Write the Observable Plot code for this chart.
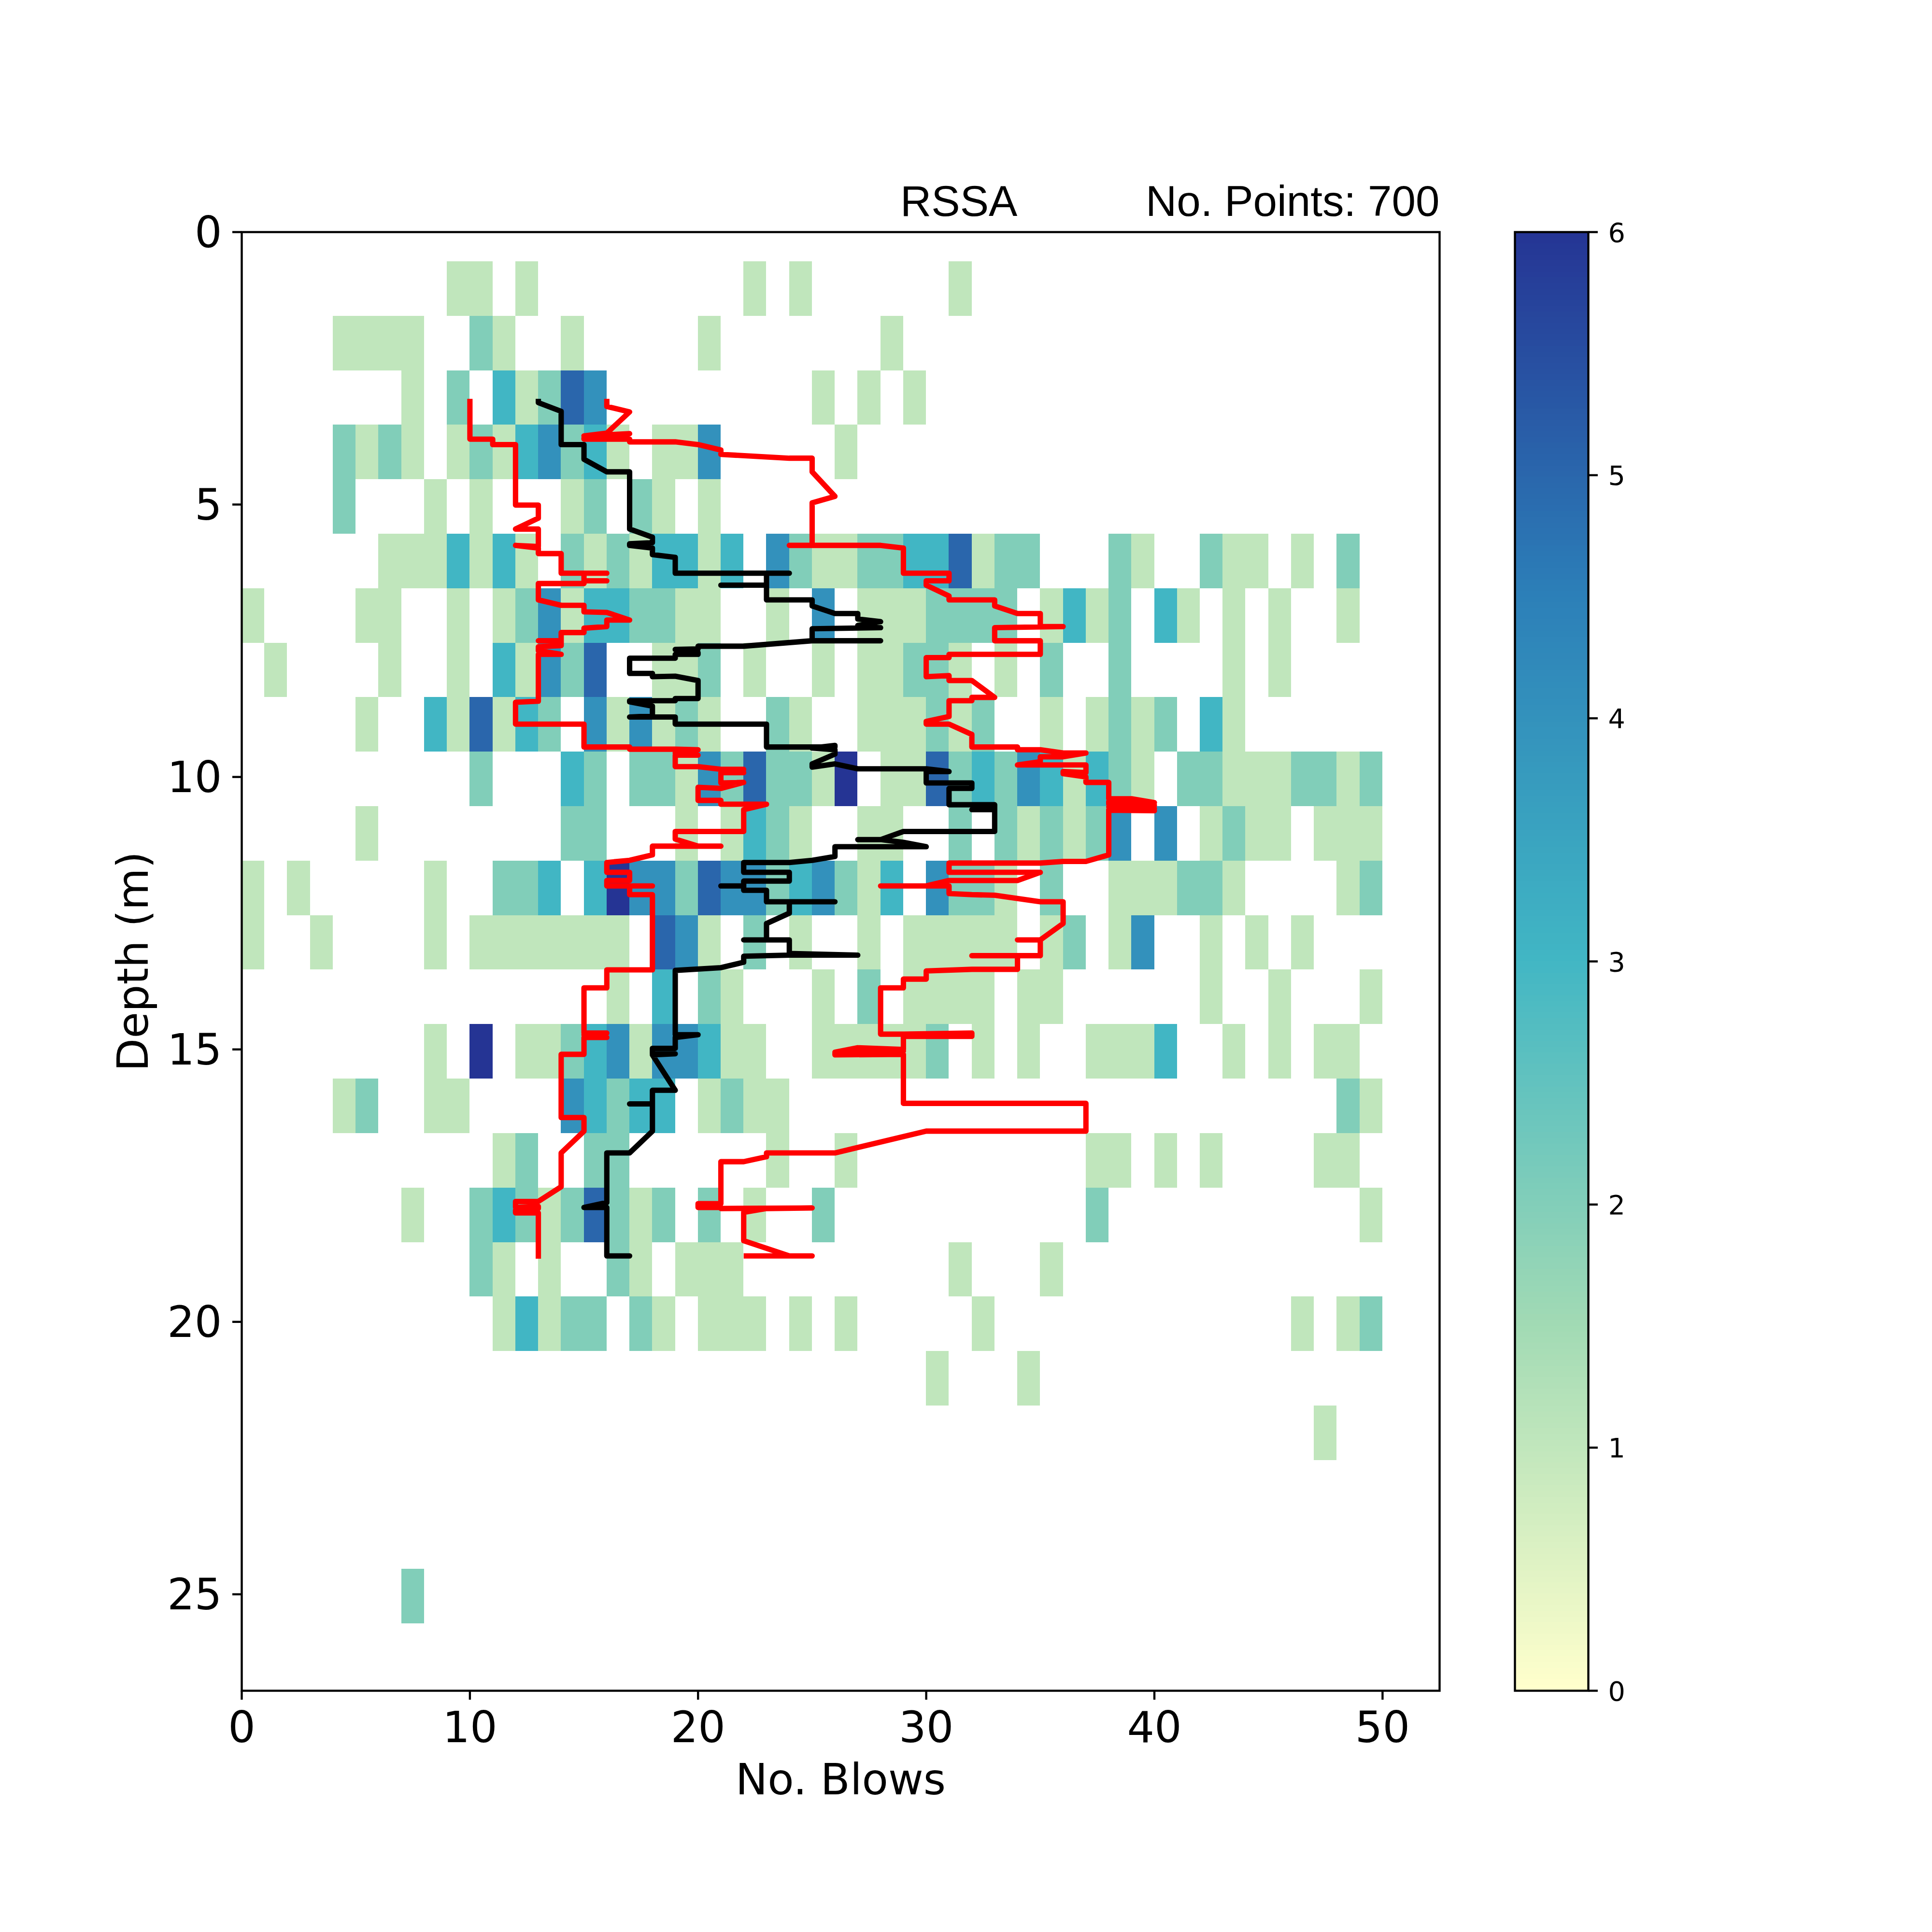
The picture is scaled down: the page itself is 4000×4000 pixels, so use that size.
<!DOCTYPE html>
<html>
<head>
<meta charset="utf-8">
<script src="https://cdn.jsdelivr.net/npm/d3@7"></script>
<script src="https://cdn.jsdelivr.net/npm/@observablehq/plot@0.6"></script>
<style>
html,body{margin:0;padding:0;background:#fff;}
#wrap{position:relative;width:4000px;height:4000px;}
#wrap svg{position:absolute;left:0;top:0;background:transparent;}
</style>
</head>
<body>
<div id="wrap"></div>
<script>
// Histogram rows: top depth of each row and sparse [blows bin, count] pairs
const rowTops = [0.54,1.54,2.54,3.54,4.54,5.54,6.54,7.54,8.54,9.54,10.54,11.54,12.54,13.54,14.54,15.54,16.54,17.54,18.54,19.54,20.54,21.54,24.54];
const rowCounts = [
 [[9,1],[10,1],[12,1],[22,1],[24,1],[31,1]],
 [[4,1],[5,1],[6,1],[7,1],[10,2],[11,1],[14,1],[20,1],[28,1]],
 [[7,1],[9,2],[11,3],[12,1],[13,2],[14,5],[15,4],[25,1],[27,1],[29,1]],
 [[4,2],[5,1],[6,2],[7,1],[9,1],[10,2],[11,1],[12,3],[13,4],[14,2],[15,3],[16,1],[18,1],[19,1],[20,4],[26,1]],
 [[4,2],[8,1],[10,1],[14,1],[15,2],[17,2],[18,1],[20,1]],
 [[6,1],[7,1],[8,1],[9,3],[10,1],[11,3],[12,1],[14,2],[15,1],[16,2],[17,1],[18,3],[19,3],[20,1],[21,3],[23,4],[24,2],[25,1],[26,1],[27,2],[28,2],[29,3],[30,3],[31,5],[32,1],[33,2],[34,2],[38,2],[39,1],[42,2],[43,1],[44,1],[46,1],[48,2]],
 [[0,1],[5,1],[6,1],[9,1],[11,1],[12,2],[13,4],[14,1],[15,3],[16,3],[17,2],[18,2],[19,1],[20,1],[23,1],[25,4],[27,1],[28,1],[29,1],[30,2],[31,2],[32,2],[33,2],[35,1],[36,3],[37,1],[38,2],[40,3],[41,1],[43,1],[45,1],[48,1]],
 [[1,1],[6,1],[9,1],[11,3],[12,1],[13,4],[14,2],[15,5],[18,1],[19,1],[20,2],[22,1],[25,1],[27,1],[28,1],[29,2],[30,2],[31,1],[33,1],[35,2],[38,2],[43,1],[45,1]],
 [[5,1],[8,3],[9,1],[10,5],[11,1],[12,3],[13,2],[15,4],[16,1],[17,4],[18,1],[19,2],[20,1],[23,2],[24,1],[27,1],[28,1],[29,1],[30,2],[31,1],[32,2],[35,1],[37,1],[38,2],[39,1],[40,2],[42,3],[43,1]],
 [[10,2],[14,3],[15,2],[17,2],[18,2],[19,1],[20,4],[21,2],[22,5],[23,2],[24,2],[25,1],[26,6],[28,1],[29,1],[30,5],[31,2],[32,3],[33,2],[34,4],[35,3],[36,1],[37,3],[38,2],[39,1],[41,2],[42,2],[43,1],[44,1],[45,1],[46,2],[47,2],[48,1],[49,2]],
 [[5,1],[14,2],[15,2],[19,1],[21,1],[22,3],[23,2],[24,1],[27,1],[28,1],[31,2],[33,2],[34,1],[35,2],[36,1],[37,2],[38,4],[40,4],[42,1],[43,2],[44,1],[45,1],[47,1],[48,1],[49,1]],
 [[0,1],[2,1],[8,1],[11,2],[12,2],[13,3],[15,3],[16,6],[17,4],[18,4],[19,2],[20,5],[21,4],[22,4],[23,2],[24,3],[25,4],[26,2],[27,1],[28,3],[30,4],[31,2],[32,2],[33,1],[35,2],[38,1],[39,1],[40,1],[41,2],[42,2],[43,1],[48,1],[49,2]],
 [[0,1],[3,1],[8,1],[10,1],[11,1],[12,1],[13,1],[14,1],[15,1],[16,1],[18,5],[19,4],[20,1],[22,2],[24,1],[27,1],[29,1],[30,1],[31,1],[32,1],[33,1],[35,1],[36,2],[38,1],[39,4],[42,1],[44,1],[46,1]],
 [[16,1],[18,3],[20,2],[21,1],[25,1],[27,2],[29,1],[30,1],[31,1],[32,1],[34,1],[35,1],[42,1],[45,1],[49,1]],
 [[8,1],[10,6],[12,1],[13,1],[14,2],[15,3],[16,4],[17,1],[18,4],[19,4],[20,3],[21,1],[22,1],[25,1],[26,1],[27,1],[28,1],[29,1],[30,2],[32,1],[34,1],[37,1],[38,1],[39,1],[40,3],[43,1],[45,1],[47,1],[48,1]],
 [[4,1],[5,2],[8,1],[9,1],[14,4],[15,3],[16,2],[17,3],[18,3],[20,1],[21,2],[22,1],[23,1],[48,2],[49,1]],
 [[11,1],[12,2],[15,2],[16,2],[23,1],[26,1],[37,1],[38,1],[40,1],[42,1],[47,1],[48,1]],
 [[7,1],[10,2],[11,3],[12,2],[13,1],[14,2],[15,5],[16,2],[17,1],[18,2],[20,2],[22,1],[25,2],[37,2],[49,1]],
 [[10,2],[11,1],[13,1],[16,2],[17,1],[19,1],[20,1],[21,1],[31,1],[35,1]],
 [[11,1],[12,3],[13,1],[14,2],[15,2],[17,2],[18,1],[20,1],[21,1],[22,1],[24,1],[26,1],[32,1],[46,1],[48,1],[49,2]],
 [[30,1],[34,1]],
 [[47,1]],
 [[7,2]]
];
// Black median line: [blows, depth]
const medianLine = [[13,3.06],[13,3.13],[14,3.29],[14,3.9],[15,3.9],[15,4.17],[16,4.4],[17,4.4],[17,5.45],[18,5.6],[18,5.7],[17,5.72],[17,5.75],[18,5.8],[18,5.92],[19,5.97],[19,6.26],[24,6.26],[23,6.26],[23,6.48],[21,6.48],[23,6.48],[23,6.75],[25,6.75],[25,6.86],[26,7],[27,7],[27,7.1],[28,7.15],[27,7.22],[28,7.26],[25,7.28],[25,7.5],[28,7.5],[25,7.5],[22,7.6],[20,7.6],[20,7.65],[19,7.66],[20,7.72],[20,7.75],[19,7.75],[19,7.82],[17,7.82],[17,8.1],[18,8.1],[18,8.16],[19,8.15],[20,8.23],[20,8.56],[19,8.56],[19,8.6],[17,8.6],[17,8.62],[18,8.7],[18,8.88],[17,8.9],[19,8.9],[19,9.03],[23,9.03],[23,9.45],[26,9.45],[26,9.42],[25,9.47],[26,9.5],[26,9.58],[25,9.76],[25,9.82],[26,9.76],[27,9.85],[30,9.85],[31,9.9],[30,9.9],[30,10.11],[32,10.11],[32,10.21],[31,10.21],[31,10.51],[33,10.51],[33,10.6],[32,10.6],[33,10.6],[33,11],[29,11],[28,11.15],[27,11.15],[28,11.15],[29,11.2],[30,11.28],[26,11.28],[26,11.46],[25,11.53],[24,11.57],[22,11.57],[22,11.75],[24,11.75],[24,11.91],[22,11.91],[22,12],[21,12],[22,12],[22,12.08],[23,12.08],[23,12.29],[26,12.29],[24,12.29],[24,12.5],[23,12.69],[23,12.99],[22,12.99],[24,12.99],[24,13.24],[27,13.27],[24,13.27],[22,13.29],[22,13.4],[21,13.5],[19,13.55],[19,14.73],[20,14.73],[19,14.78],[19,14.98],[18,14.98],[18,15.08],[19,15.08],[18,15.1],[19,15.75],[18,15.75],[18,16],[17,16],[18,16],[18,16.5],[17,16.9],[16,16.9],[16,17.81],[15,17.9],[16,17.9],[16,18.79],[17,18.79],[16,18.79]];
// Red lower line: [blows, depth]
const lowerLine = [[10,3.06],[10,3.8],[11,3.8],[11,3.9],[12,3.9],[12,5.01],[13,5.01],[13,5.25],[12,5.45],[13,5.45],[13,5.77],[12,5.75],[13,5.8],[13,5.9],[14,5.9],[14,6.26],[16,6.26],[15,6.26],[15,6.4],[16,6.4],[15,6.4],[15,6.45],[13,6.45],[13,6.75],[14,6.85],[15,6.85],[15,6.97],[16,6.98],[17,7.12],[16,7.12],[16,7.24],[15,7.27],[15,7.35],[14,7.35],[14,7.5],[13,7.5],[14,7.5],[14,7.59],[13,7.61],[13,7.68],[14,7.75],[13,7.75],[13,8.61],[12,8.63],[12,9.03],[15,9.03],[15,9.45],[17,9.45],[17,9.49],[19,9.49],[20,9.5],[19,9.56],[20,9.6],[19,9.6],[19,9.81],[20,9.81],[21,9.86],[22,9.86],[21,9.89],[22,9.92],[21,9.92],[21,10.11],[22,10.1],[21,10.21],[20,10.19],[20,10.43],[21,10.43],[21,10.5],[23,10.5],[22,10.6],[22,11],[19,11],[19,11.14],[20,11.27],[21,11.27],[18,11.27],[18,11.43],[17,11.53],[16,11.57],[16,11.75],[17,11.75],[17,11.9],[16,11.9],[16,12],[18,12],[17,12],[17,12.16],[18,12.16],[18,13.54],[16,13.54],[16,13.87],[15,13.87],[15,14.7],[16,14.7],[15,14.73],[16,14.78],[15,14.78],[15,15.09],[14,15.09],[14,16.25],[15,16.25],[15,16.5],[14,16.9],[14,17.52],[13,17.79],[12,17.79],[12,17.9],[13,17.88],[13,17.92],[12,17.95],[12,18],[13,18],[13,18.84]];
// Red upper line: [blows, depth]
const upperLine = [[16,3.06],[16,3.2],[17,3.3],[16,3.69],[15,3.74],[17,3.7],[15,3.78],[15,3.8],[17,3.8],[17,3.85],[19,3.85],[20,3.9],[21,4],[21,4.08],[24,4.15],[25,4.15],[25,4.4],[26,4.85],[25,4.97],[25,5.75],[24,5.75],[28,5.75],[29,5.8],[29,6.26],[31,6.26],[31,6.4],[30,6.4],[30,6.48],[31,6.68],[31,6.75],[33,6.75],[33,6.86],[34,7],[35,7],[35,7.24],[36,7.24],[33,7.26],[33,7.5],[35,7.5],[35,7.75],[31,7.75],[31,7.81],[30,7.81],[30,8.16],[31,8.14],[31,8.23],[32,8.23],[33,8.54],[32,8.54],[32,8.6],[31,8.6],[31,8.89],[30,8.98],[30,9.03],[31,9.03],[32,9.22],[32,9.45],[34,9.45],[34,9.5],[35,9.5],[36,9.56],[37,9.56],[36,9.63],[35,9.63],[35,9.72],[34,9.78],[37,9.78],[37,9.92],[36,9.9],[36,9.94],[37,10],[37,10.1],[38,10.1],[38,10.4],[39,10.4],[40,10.47],[38,10.45],[38,10.5],[40,10.52],[38,10.55],[40,10.58],[38,10.6],[40,10.62],[38,10.61],[38,11.43],[37,11.55],[36,11.55],[35,11.58],[31,11.58],[31,11.75],[35,11.75],[34,11.9],[31,11.9],[30,12],[28,12],[31,12],[31,12.14],[32,12.16],[33,12.17],[35,12.29],[36,12.29],[36,12.69],[35,12.99],[34,12.99],[35,12.99],[35,13.28],[32,13.28],[34,13.28],[34,13.53],[32,13.53],[30,13.56],[30,13.71],[29,13.71],[29,13.87],[28,13.87],[28,14.72],[29,14.72],[32,14.7],[32,14.76],[29,14.76],[29,15],[27,14.97],[26,15.05],[29,15.03],[26,15.07],[26,15.1],[29,15.09],[29,15.99],[37,15.99],[37,16.5],[30,16.5],[26,16.9],[23,16.9],[23,16.97],[22,17.06],[21,17.06],[21,17.83],[20,17.83],[20,17.9],[21,17.9],[21,17.92],[25,17.91],[23,17.92],[22,17.99],[22,18.51],[24,18.79],[25,18.79],[22,18.79]];
// Scale and tick settings
const xTicks = [0,10,20,30,40,50];
const yTicks = [0,5,10,15,20,25];
const cbTicks = [0,1,2,3,4,5,6];
const xDomain = [0,52.5];
const yDomain = [26.77,0];
const cbDomain = [0,6];
const colorStops = [0,1.5,3,4.5,6];
const colorRange = ["#ffffcc","#a1dab4","#41b6c4","#2c7fb8","#253494"];
const titleLeft = "RSSA";
const titleRight = "No. Points: 700";
const xLabel = "No. Blows";
const yLabel = "Depth (m)";

const cells = rowTops.flatMap((top,i)=>rowCounts[i].map(([bin,count])=>({x1:bin,x2:bin+1,y1:top,y2:top+1,count})));
const cbLevels = d3.range(256).map(i=>({v1:i*6/256,v2:(i+1)*6/256}));

const fontTick = "DejaVu Sans";
const fontTitle = "Liberation Sans";
const lineStyle = {strokeWidth:11.1,strokeLinejoin:"round",strokeLinecap:"butt"};

const main = Plot.plot({
  width:4000,height:4000,
  marginLeft:500,marginRight:1020,marginTop:480,marginBottom:500,
  style:{background:"transparent",color:"#000"},
  x:{domain:xDomain,label:null},
  y:{domain:yDomain,label:null},
  color:{type:"linear",domain:colorStops,range:colorRange},
  marks:[
    Plot.rect(cells,{x1:"x1",x2:"x2",y1:"y1",y2:"y2",fill:"count",inset:0,shapeRendering:"crispEdges"}),
    Plot.line(lowerLine,{x:d=>d[0],y:d=>d[1],stroke:"#ff0000",...lineStyle}),
    Plot.line(upperLine,{x:d=>d[0],y:d=>d[1],stroke:"#ff0000",...lineStyle}),
    Plot.line(medianLine,{x:d=>d[0],y:d=>d[1],stroke:"#000000",...lineStyle}),
    Plot.frame({stroke:"#000",strokeWidth:4.4}),
    Plot.axisX({ticks:xTicks,anchor:"bottom",tickSize:19,tickPadding:24,strokeWidth:4.4,fontSize:89,fontFamily:fontTick,label:xLabel,labelAnchor:"center",labelArrow:"none",labelOffset:214,tickFormat:d=>String(d)}),
    Plot.axisY({ticks:yTicks,anchor:"left",tickSize:19,text:null,strokeWidth:4.4,label:null}),
    Plot.axisY({ticks:yTicks,anchor:"left",tickSize:0,tickPadding:41,dy:3,fontSize:89,fontFamily:fontTick,label:yLabel,labelAnchor:"center",labelArrow:"none",labelOffset:258,tickFormat:d=>String(d)}),
    Plot.text([titleLeft],{x:()=>31.43,y:()=>0,text:d=>d,lineAnchor:"bottom",dy:-34,fontSize:89,fontFamily:fontTitle,fill:"#000",textAnchor:"middle",clip:false}),
    Plot.text([titleRight],{x:()=>52.5,y:()=>0,text:d=>d,lineAnchor:"bottom",dy:-34,fontSize:89,fontFamily:fontTitle,fill:"#000",textAnchor:"end",clip:false})
  ]
});

const colorbar = Plot.plot({
  width:4000,height:4000,
  marginLeft:3136,marginRight:712,marginTop:480,marginBottom:500,
  style:{background:"transparent",color:"#000"},
  x:{domain:[0,1],axis:null},
  y:{domain:cbDomain,label:null},
  color:{type:"linear",domain:colorStops,range:colorRange},
  marks:[
    Plot.rect(cbLevels,{x1:()=>0,x2:()=>1,y1:"v1",y2:"v2",fill:"v1",shapeRendering:"crispEdges"}),
    Plot.frame({stroke:"#000",strokeWidth:4.4}),
    Plot.axisY({ticks:cbTicks,anchor:"right",tickSize:19,text:null,strokeWidth:4.4,label:null}),
    Plot.axisY({ticks:cbTicks,anchor:"right",tickSize:0,tickPadding:41,dy:2.5,fontSize:55.6,fontFamily:fontTick,label:null,tickFormat:d=>String(d)})
  ]
});

const wrap = document.getElementById("wrap");
wrap.appendChild(main);
wrap.appendChild(colorbar);
</script>
</body>
</html>
